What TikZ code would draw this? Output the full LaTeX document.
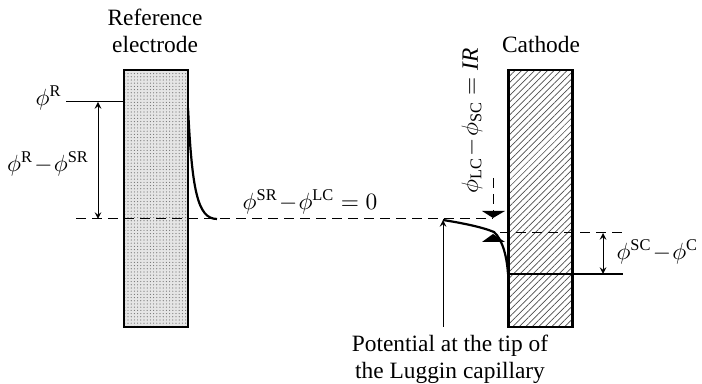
\documentclass[tikz,border=0pt]{standalone}
\usepackage{fix-cm}
\usepackage{amsmath}
\usepackage{fontspec}
\setmainfont{Liberation Serif}
\usetikzlibrary{patterns.meta}

\newcommand{\dif}{\!-\!}

\begin{document}
\begin{tikzpicture}[>=stealth, x=0.5pt, y=-0.5pt, line width=0.5pt]
  \tikzstyle{lbl}=[font=\fontsize{11.7}{13.5}\selectfont, inner sep=0pt, align=center]
  \tikzstyle{electrode}=[draw, line width=1.1pt, inner sep=0pt,
    minimum width=32pt, minimum height=128.5pt]
  \tikzstyle{level}=[line width=1.1pt]
  \tikzstyle{guide}=[dash pattern=on 5pt off 3pt]
  \useasboundingbox (0,0) rectangle (702,384);

  % Electrodes
  \node[electrode, preaction={fill=black!10},
    pattern={Dots[distance=1.6pt, radius=0.3pt]}, pattern color=black!55] (ref) at (156,198.5) {};
  \node[electrode, pattern={Lines[angle=45, distance=2.3pt, line width=0.35pt]},
    pattern color=black!70] (cath) at (540.5,198.5) {};
  \node[lbl] (reflbl) at (155,31) {Reference\\electrode};
  \node[lbl] (cathlbl) at (541,45) {Cathode};

  % Left: reference electrode potential
  \coordinate (rl) at (66,102);
  \coordinate (rr) at (124,102);
  \draw (rl) -- (rr);
  \node[lbl, anchor=east] (phiR) at (62,98) {$\phi^{\text{R}}$};

  \coordinate (ra) at (98,102);
  \coordinate (rb) at (98,219);
  \draw[<->] (ra) -- (rb);
  \node[lbl] (dRSR) at (48,164) {$\phi^{\text{R}}\dif\phi^{\text{SR}}$};

  % Middle: solution level
  \coordinate (sl) at (76,219);
  \coordinate (se) at (493,219);
  \draw[guide] (sl) -- (se);

  \coordinate (dl0) at (188,108);
  \coordinate (dl1) at (217,219);
  \draw[level] (dl0) .. controls (192,188) and (197,219) .. (dl1);
  \node[lbl] (dSRLC) at (310,202) {$\phi^{\text{SR}}\dif\phi^{\text{LC}}=0$};

  % Luggin tip
  \coordinate (tip) at (443,220);
  \coordinate (tipb) at (443,327);
  \draw[->] (tipb) -- (tip);
  \node[lbl] (tiplbl) at (450,359) {Potential at the tip of\\the Luggin capillary};

  % Right: cathode side
  \coordinate (ohm) at (494,232);
  \coordinate (cs) at (508,274);
  \coordinate (ce) at (623,274);
  \draw[level] (tip) .. controls (462,223) and (482,227) .. (ohm)
    .. controls (503,240) and (507,258) .. (cs);
  \draw[level] (cs) -- (ce);

  \coordinate (ol) at (500,233);
  \coordinate (oe) at (623,233);
  \draw[guide] (ol) -- (oe);

  \coordinate (ca) at (603,233);
  \coordinate (cb) at (603,274);
  \draw[<->] (ca) -- (cb);
  \node[lbl, anchor=west] (dSCC) at (616,252) {$\phi^{\text{SC}}\dif\phi^{\text{C}}$};

  % IR drop
  \coordinate (ir) at (493,178);
  \coordinate (irt) at (493,212);
  \draw[guide] (ir) -- (irt);
  \fill (482,211) -- (505,211) -- (493,218) -- cycle;
  \fill (482,242) -- (505,242) -- (493,234) -- cycle;
  \node[lbl, rotate=90] (dLCSC) at (472,121) {$\phi_{\text{LC}}\dif\phi_{\text{SC}}=\textit{IR}$};
\end{tikzpicture}
\end{document}
